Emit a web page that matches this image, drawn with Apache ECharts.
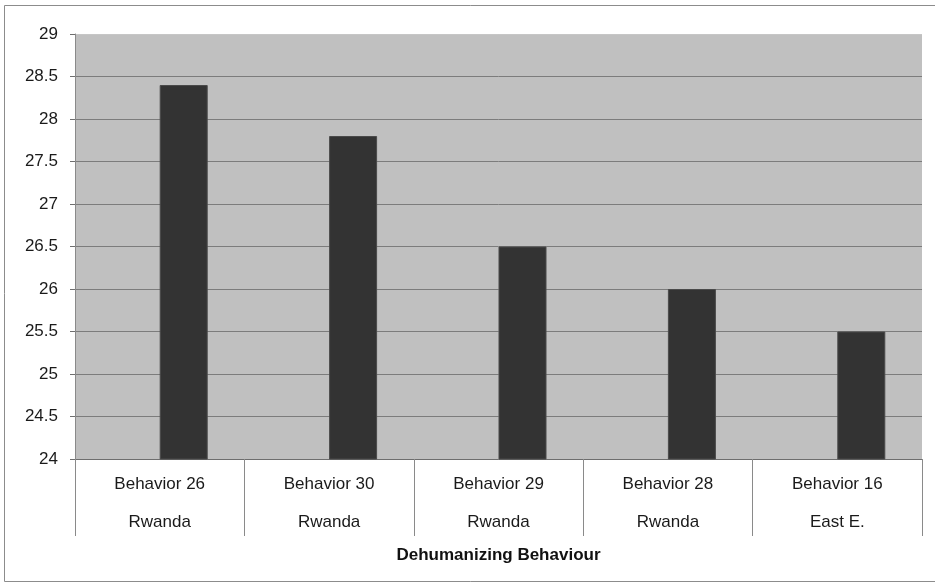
<!DOCTYPE html>
<html>
<head>
<meta charset="utf-8">
<script src="https://cdn.jsdelivr.net/npm/echarts@6/dist/echarts.min.js"></script>
<style>
  html, body { margin: 0; padding: 0; background: #fff; }
  #chart { width: 935px; height: 583px; }
</style>
</head>
<body>
<div id="chart"></div>
<script>
// Behaviour scores per item, with the sample each one comes from
const behaviors = ['Behavior 26', 'Behavior 30', 'Behavior 29', 'Behavior 28', 'Behavior 16'];
const regions = ['Rwanda', 'Rwanda', 'Rwanda', 'Rwanda', 'East E.'];
const scores = [28.4, 27.8, 26.5, 26.0, 25.5];
const yTicks = { min: 24, max: 29, step: 0.5 };
const axisTitle = 'Dehumanizing Behaviour';

const categories = behaviors.map((b, i) => b + '\n' + regions[i]);

// gridline colours, one per tick; the top edge stays nearly invisible
const gridCount = Math.round((yTicks.max - yTicks.min) / yTicks.step) + 1;
const gridColors = Array.from({ length: gridCount }, (_, i) => i === gridCount - 1 ? '#c6c6c6' : '#7c7c7c');

const chart = echarts.init(document.getElementById('chart'), null, { renderer: 'canvas' });
const font = '"Liberation Sans", Arial, sans-serif';

chart.setOption({
  animation: false,
  backgroundColor: '#ffffff',
  graphic: [{
    type: 'rect',
    shape: { x: 4.5, y: 5.5, width: 960, height: 576 },
    style: { fill: null, stroke: '#8c8c8c', lineWidth: 1 },
    silent: true
  }],
  grid: {
    left: 75, top: 34, right: 13, bottom: 124,
    show: true, backgroundColor: '#c0c0c0', borderWidth: 0
  },
  xAxis: {
    type: 'category',
    data: categories,
    name: axisTitle,
    nameLocation: 'middle',
    nameGap: 88,
    nameTextStyle: { fontFamily: font, fontSize: 17, fontWeight: 'bold', color: '#111' },
    axisLine: { show: true, lineStyle: { color: '#6e6e6e', width: 1 } },
    axisTick: { show: true, length: 77, alignWithLabel: false, lineStyle: { color: '#8a8a8a' } },
    axisLabel: {
      fontFamily: font, fontSize: 17, color: '#1a1a1a', margin: 6,
      lineHeight: 38, align: 'center'
    },
    splitLine: { show: false }
  },
  yAxis: {
    type: 'value',
    min: yTicks.min, max: yTicks.max, interval: yTicks.step,
    axisLine: { show: true, lineStyle: { color: '#8a8a8a', width: 1 } },
    axisTick: { show: true, length: 5, inside: false, lineStyle: { color: '#6e6e6e' } },
    axisLabel: { fontFamily: font, fontSize: 17, color: '#1a1a1a', margin: 17 },
    splitLine: { show: true, lineStyle: { color: gridColors, width: 1 } }
  },
  series: [
    {
      // empty companion series, keeps the bars in the right half of each slot
      type: 'bar', data: scores.map(() => null), barWidth: 48, barGap: '0%',
      itemStyle: { color: 'transparent' }
    },
    {
      type: 'bar', data: scores, barWidth: 48, barGap: '0%',
      itemStyle: { color: '#333333', borderColor: '#4a4a4a', borderWidth: 1 }
    }
  ]
});
</script>
</body>
</html>
